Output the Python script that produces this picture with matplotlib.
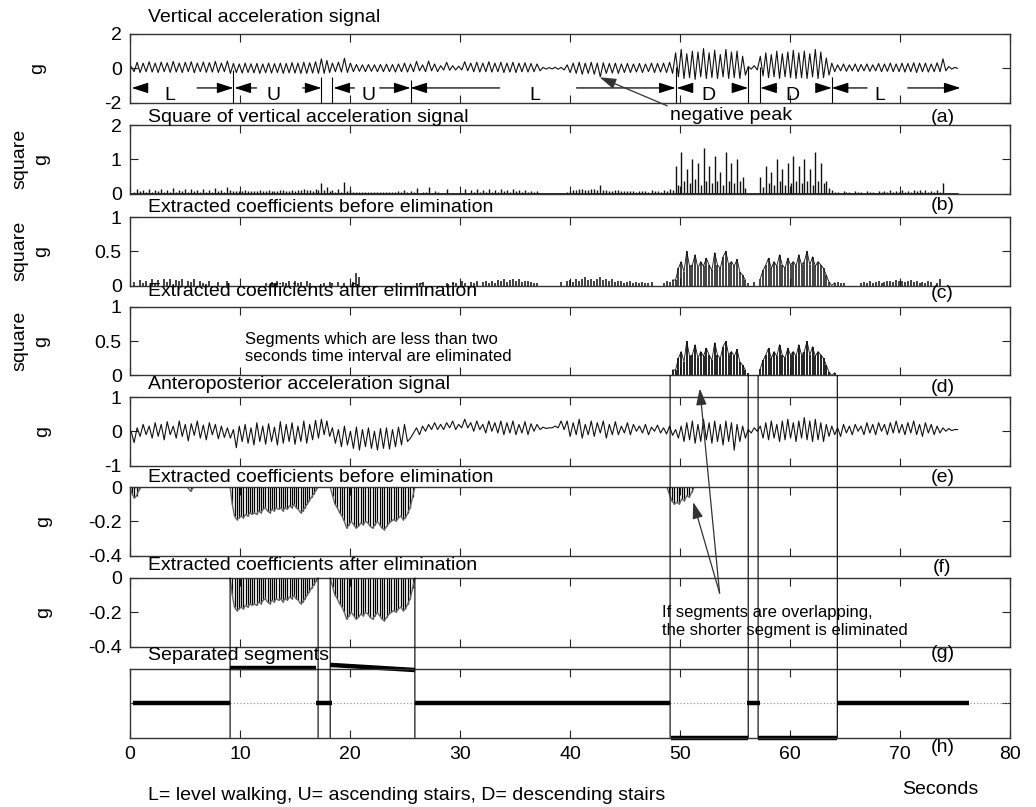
import numpy as np
import matplotlib
matplotlib.use('Agg')
import matplotlib.pyplot as plt
from matplotlib.patches import ConnectionPatch

plt.rcParams['font.family'] = ['Liberation Sans', 'DejaVu Sans']
plt.rcParams['axes.unicode_minus'] = False

# ---------------- data ----------------
# activity segments (seconds) of the vertical / anteroposterior signals
seg_start = [0.1, 9.4, 17.4, 18.4, 25.5, 49.6, 56.2, 57.3, 63.8]
seg_end = [9.4, 17.4, 18.4, 25.5, 49.6, 56.2, 57.3, 63.8, 75.5]

# (a) vertical acceleration signal (g), successive peaks / troughs per segment
vert_L1 = [0.1,-0.2, 0.35,-0.25, 0.3,-0.2, 0.38,-0.22, 0.3,-0.25, 0.36,-0.2, 0.32,-0.24, 0.4,-0.22, 0.3,-0.25,
           0.35,-0.2, 0.38,-0.26, 0.3,-0.2, 0.36,-0.24, 0.33,-0.22, 0.4,-0.25, 0.3,-0.2, 0.42,-0.3]
vert_U1 = [0.28,-0.25, 0.25,-0.28, 0.3,-0.25, 0.26,-0.27, 0.28,-0.3, 0.25,-0.26, 0.3,-0.28, 0.27,-0.25,
           0.3,-0.3, 0.28,-0.27, 0.33,-0.28, 0.3,-0.3, 0.35,-0.3, 0.32,-0.28, 0.38,-0.3]
vert_T1 = [0.55,-0.3, 0.45,-0.25]
vert_U2 = [0.3,-0.2, 0.35,-0.22, 0.58,-0.25, 0.3,-0.2, 0.22,-0.18, 0.2,-0.2, 0.22,-0.18, 0.2,-0.2,
           0.22,-0.2, 0.24,-0.2, 0.22,-0.22, 0.25,-0.2, 0.3,-0.22]
vert_L2 = [0.25,-0.2, 0.4,-0.15, 0.2,-0.2, 0.42,-0.15, 0.25,-0.2,
           0.15,-0.1, 0.35,-0.12, 0.15,-0.1, 0.12,-0.1, 0.38,-0.15,
           0.3,-0.2, 0.35,-0.22, 0.3,-0.2, 0.38,-0.22, 0.3,-0.2,
           0.35,-0.25, 0.3,-0.22, 0.35,-0.25, 0.3,-0.2, 0.32,-0.22, 0.28,-0.2, 0.25,-0.15,
           0.05,-0.05, 0.04,-0.04, 0.06,-0.06, 0.05,-0.1,
           0.2,-0.25, 0.3,-0.3, 0.35,-0.35, 0.3,-0.3, 0.35,-0.35, 0.3,-0.5, 0.32,-0.3, 0.28,-0.28,
           0.3,-0.3, 0.25,-0.25, 0.28,-0.25, 0.25,-0.22, 0.28,-0.25, 0.25,-0.2, 0.3,-0.25, 0.28,-0.22,
           0.3,-0.25, 0.35,-0.3]
vert_D1 = [0.9,-0.5, 1.1,-0.6, 0.85,-0.55, 1.0,-0.65, 0.95,-0.5, 1.15,-0.6, 0.9,-0.55, 1.05,-0.6,
           0.8,-0.5, 1.1,-0.6, 0.95,-0.55, 1.0,-0.6, 0.7,-0.4]
vert_T2 = [0.1,-0.05, 0.15,-0.1]
vert_D2 = [0.7,-0.45, 0.9,-0.55, 0.8,-0.5, 1.0,-0.6, 0.85,-0.5, 0.95,-0.55, 1.05,-0.6, 0.9,-0.55,
           1.0,-0.6, 0.85,-0.5, 1.1,-0.6, 0.95,-0.55, 0.6,-0.4]
vert_L3 = [0.3,-0.2, 0.2,-0.15, 0.25,-0.18, 0.2,-0.15, 0.25,-0.2, 0.22,-0.15, 0.25,-0.18, 0.2,-0.15,
           0.28,-0.2, 0.25,-0.18, 0.3,-0.2, 0.25,-0.2, 0.3,-0.22, 0.28,-0.2, 0.32,-0.25, 0.3,-0.2,
           0.3,-0.22, 0.25,-0.2, 0.32,-0.2, 0.55,-0.15, 0.1,-0.05, 0.05,0.0]

# (c) extracted coefficients before elimination (square g)
coef_L1 = [0,0.05, 0,0.08, 0.03,0.07, 0,0.1, 0.04,0.08, 0,0.09, 0.05,0.1, 0,0.08, 0.06,0.1, 0,0.07,
           0.05,0.09, 0,0.06, 0.04,0, 0.07,0, 0,0.05, 0,0, 0.06,0]
coef_U1 = [0,0, 0,0, 0,0, 0,0, 0,0, 0,0.03, 0,0.05, 0.03,0.06, 0,0.05, 0.04,0.06, 0,0.07, 0.03,0.05,
           0,0.06, 0.04,0, 0,0]
coef_T1 = [0,0.04, 0,0.05]
coef_U2 = [0.04,0, 0.05,0, 0.03,0, 0,0.05, 0.18,0.12, 0,0, 0,0, 0,0, 0,0, 0,0, 0,0, 0,0, 0,0]
coef_L2 = [0,0, 0.04,0.03, 0.05,0, 0,0, 0,0,
           0,0, 0.04,0, 0.05,0.03, 0,0.06, 0.04,0,
           0.05,0.03, 0.06,0, 0.05,0.07, 0.03,0.06, 0.04,0.08,
           0.06,0.1, 0.05,0.08, 0.09,0.06, 0.1,0.05, 0.07,0.06, 0.05,0.04, 0.03,0,
           0,0, 0,0, 0,0, 0.05,0,
           0.06,0.08, 0.05,0.1, 0.07,0.09, 0.12,0.08, 0.1,0.07, 0.09,0.12, 0.08,0.1, 0.06,0.09,
           0.05,0.07, 0.06,0.04, 0.05,0.06, 0.04,0.05, 0.03,0.05, 0.04,0.03, 0.05,0, 0,0,
           0.04,0.06, 0.05,0.08]
coef_D1 = [0.08,0.25, 0.35,0.2, 0.5,0.28, 0.3,0.45, 0.25,0.35, 0.28,0.4, 0.3,0.22, 0.48,0.3,
           0.25,0.42, 0.5,0.3, 0.35,0.28, 0.38,0.2, 0.15,0.08]
coef_T2 = [0.03,0, 0.05,0]
coef_D2 = [0.1,0.22, 0.3,0.4, 0.25,0.35, 0.28,0.45, 0.3,0.25, 0.4,0.3, 0.35,0.28, 0.45,0.3,
           0.35,0.5, 0.3,0.42, 0.28,0.35, 0.3,0.25, 0.15,0.05]
coef_L3 = [0,0.04, 0.05,0.03, 0.04,0, 0,0, 0,0, 0.04,0.05, 0.03,0.06, 0.04,0.05, 0.06,0.04, 0.05,0.07,
           0.06,0.05, 0.08,0.06, 0.07,0.05, 0.06,0.08, 0.05,0.06, 0.04,0.05, 0.03,0.06, 0.05,0,
           0.04,0.1, 0,0, 0,0, 0,0]

# (e) anteroposterior acceleration signal (g)
ap_L1 = [0.0,-0.33, 0.1,-0.15, 0.2,-0.1, 0.15,-0.2, 0.25,-0.15, 0.2,-0.25, 0.28,-0.1, 0.15,-0.2,
         0.3,-0.15, 0.2,-0.28, 0.22,-0.12, 0.3,-0.2, 0.18,-0.25, 0.25,-0.1, 0.2,-0.22, 0.15,-0.18, 0.1,-0.2]
ap_U1 = [0.05,-0.48, 0.15,-0.3, 0.2,-0.35, 0.1,-0.4, 0.25,-0.3, 0.15,-0.38, 0.22,-0.3, 0.12,-0.4,
         0.28,-0.35, 0.2,-0.3, 0.25,-0.38, 0.15,-0.3, 0.3,-0.35, 0.2,-0.25, 0.32,-0.2]
ap_T1 = [0.35,-0.1, 0.3,-0.15]
ap_U2 = [0.1,-0.35, 0.05,-0.45, 0.15,-0.4, 0.0,-0.5, 0.12,-0.55, 0.05,-0.45, 0.1,-0.5, 0.0,-0.55,
         0.08,-0.5, 0.1,-0.52, 0.05,-0.45, 0.12,-0.4, 0.2,-0.3]
ap_L2 = [-0.2,-0.05, 0.1,-0.1, 0.15,0.0, 0.2,0.05, 0.25,0.05,
         0.2,0.05, 0.25,0.1, 0.3,0.05, 0.2,0.1, 0.35,0.1,
         0.25,0.0, 0.3,0.05, 0.2,-0.05, 0.3,0.0, 0.25,-0.05,
         0.3,-0.1, 0.25,-0.05, 0.3,-0.1, 0.2,-0.05, 0.28,-0.1, 0.22,0.0, 0.2,0.05,
         0.12,0.08, 0.1,0.1, 0.15,0.1, 0.3,0.05,
         0.3,-0.15, 0.25,-0.1, 0.35,-0.2, 0.2,-0.1, 0.3,-0.15, 0.25,-0.05, 0.3,-0.2, 0.2,-0.1,
         0.28,-0.1, 0.15,-0.05, 0.25,-0.1, 0.2,0.0, 0.15,-0.05, 0.2,-0.1, 0.12,0.0, 0.18,-0.05,
         0.1,-0.08, 0.15,-0.12]
ap_D1 = [0.05,-0.2, 0.15,-0.3, 0.25,-0.25, 0.3,-0.35, 0.2,-0.3, 0.35,-0.25, 0.25,-0.35, 0.3,-0.3,
         0.2,-0.4, 0.3,-0.3, 0.25,-0.55, 0.2,-0.3, 0.15,-0.2]
ap_T2 = [0.05,-0.05, 0.1,0.0]
ap_D2 = [0.15,-0.2, 0.25,-0.25, 0.3,-0.2, 0.2,-0.3, 0.3,-0.25, 0.35,-0.2, 0.25,-0.3, 0.3,-0.2,
         0.4,-0.25, 0.3,-0.3, 0.35,-0.25, 0.25,-0.3, 0.2,-0.15]
ap_L3 = [0.15,-0.1, 0.1,-0.15, 0.2,-0.05, 0.15,-0.1, 0.2,0.0, 0.15,-0.1, 0.25,-0.05, 0.2,-0.1,
         0.25,0.0, 0.2,-0.1, 0.25,-0.05, 0.3,-0.05, 0.2,-0.1, 0.25,-0.05, 0.3,-0.1, 0.2,-0.15,
         0.25,-0.05, 0.2,-0.1, 0.15,-0.05, 0.1,0.0, 0.08,0.02, 0.05,0.05]

# (f) extracted negative coefficients (g): chunks with start / end time
neg_start = [0.0, 5.2, 9.1, 18.2, 48.8]
neg_end = [1.0, 5.8, 17.1, 25.9, 51.3]
neg_c0 = [0, -0.04, -0.065, -0.05, -0.02, 0]
neg_c1 = [0, -0.025, 0]
neg_c2 = [0, -0.1, -0.17, -0.19, -0.18, -0.17, -0.18, -0.16, -0.17, -0.15, -0.16, -0.15, -0.16, -0.14,
          -0.15, -0.13, -0.12, -0.14, -0.15, -0.13, -0.14, -0.12, -0.13, -0.12, -0.14, -0.12, -0.13,
          -0.11, -0.12, -0.1, -0.12, -0.13, -0.15, -0.14, -0.12, -0.1, -0.08, -0.06, -0.04, -0.02, 0]
neg_c3 = [0, -0.05, -0.1, -0.12, -0.15, -0.17, -0.2, -0.24, -0.22, -0.2, -0.22, -0.24, -0.23, -0.21,
          -0.22, -0.2, -0.21, -0.23, -0.24, -0.22, -0.2, -0.22, -0.24, -0.25, -0.23, -0.21, -0.2,
          -0.19, -0.2, -0.18, -0.17, -0.19, -0.18, -0.15, -0.12, -0.06, 0]
neg_c4 = [0, -0.04, -0.08, -0.1, -0.09, -0.1, -0.07, -0.08, -0.05, -0.06, -0.03, 0]

# (h) separated segments: 0 = level, 1 = ascending, -1 = descending
sep_start = [0.3, 9.1, 16.9, 18.2, 25.9, 49.2, 56.1, 57.1, 64.3]
sep_end = [9.1, 16.9, 18.4, 25.9, 49.1, 56.2, 57.3, 64.3, 76.3]
sep_y0 = [0, 1.02, 0, 1.12, 0, -1, 0, -1, 0]
sep_y1 = [0, 1.02, 0, 0.97, 0, -1, 0, -1, 0]
up_bounds = [9.1, 17.1, 18.2, 25.9]
down_bounds = [49.1, 56.2, 57.1, 64.3]

# (a) activity arrows
act_labels = ['L', 'U', 'U', 'L', 'D', 'D', 'L']
act_start = [0.15, 9.5, 18.5, 25.5, 49.7, 57.3, 63.8]
act_end = [9.4, 17.4, 25.5, 49.6, 56.2, 63.8, 75.5]
act_text_x = [3.6, 13.0, 21.7, 36.8, 52.6, 60.2, 68.2]
act_left_tail = [1.6, 11.5, 20.4, 33.6, 50.7, 58.8, 67.0]
act_right_tail = [6.1, 15.7, 22.7, 40.6, 55.2, 62.7, 70.7]
act_bounds = [9.4, 17.4, 18.4, 25.5, 49.6, 56.2, 57.3, 63.8]
act_bound_top = [-0.1, -0.5, -0.5, -0.7, 0.05, 0.05, 0.05, -0.5]

titles = ['Vertical acceleration signal', 'Square of vertical acceleration signal',
          'Extracted coefficients before elimination', 'Extracted coefficients after elimination',
          'Anteroposterior acceleration signal', 'Extracted coefficients before elimination',
          'Extracted coefficients after elimination', 'Separated segments']
panel_tags = ['(a)', '(b)', '(c)', '(d)', '(e)', '(f)', '(g)', '(h)']
ylims = [(-2, 2), (0, 2), (0, 1), (0, 1), (-1, 1), (-0.4, 0), (-0.4, 0), (-1, 1)]
yticks = [[-2, 0, 2], [0, 1, 2], [0, 0.5, 1], [0, 0.5, 1], [-1, 0, 1],
          [-0.4, -0.2, 0], [-0.4, -0.2, 0], [0]]
yticklabels = [['-2', '0', '2'], ['0', '1', '2'], ['0', '0.5', '1'], ['0', '0.5', '1'],
               ['-1', '0', '1'], ['-0.4', '-0.2', '0'], ['-0.4', '-0.2', '0'], ['']]
ylabels = ['g', 'square\ng', 'square\ng', 'square\ng', 'g', 'g', 'g', '']
xticks = [0, 10, 20, 30, 40, 50, 60, 70, 80]


def build(parts, starts, ends):
    ts, vs = [], []
    for v, s, e in zip(parts, starts, ends):
        n = len(v)
        ts.append(s + (e - s) * np.arange(n) / n)
        vs.append(np.asarray(v, float))
    return np.concatenate(ts), np.concatenate(vs)


t_a, vert = build([vert_L1, vert_U1, vert_T1, vert_U2, vert_L2, vert_D1, vert_T2, vert_D2, vert_L3],
                  seg_start, seg_end)
t_c, coef = build([coef_L1, coef_U1, coef_T1, coef_U2, coef_L2, coef_D1, coef_T2, coef_D2, coef_L3],
                  seg_start, seg_end)
t_e, ap = build([ap_L1, ap_U1, ap_T1, ap_U2, ap_L2, ap_D1, ap_T2, ap_D2, ap_L3], seg_start, seg_end)


def in_bounds(t, b):
    m = np.zeros_like(t, dtype=bool)
    for s, e in zip(b[0::2], b[1::2]):
        m |= (t >= s) & (t <= e)
    return m


# ---------------- figure ----------------
W, H = 1036, 807
fig = plt.figure(figsize=(W / 100, H / 100), dpi=100)
tops = [34, 125, 217, 307, 397, 487, 578, 669]
AXH = 68.5
title_off = [16, 7, 9, 15, 12, 10, 12, 14]
tag_off = [15, 12, 8, 12, 12, 12, 7, 10]
ylab_x = [38, 31, 31, 31, 43, 44, 44, 0]
FS = 14
LC = '#111111'

axes = []
for i, top in enumerate(tops):
    ax = fig.add_axes([130 / W, 1 - (top + AXH) / H, 880 / W, AXH / H])
    ax.patch.set_alpha(0)
    ax.set_xlim(0, 80)
    ax.set_ylim(*ylims[i])
    ax.set_xticks(xticks)
    ax.set_yticks(yticks[i])
    ax.set_yticklabels(yticklabels[i])
    ax.tick_params(direction='in', top=True, right=True, length=6, width=0.8,
                   labelsize=FS, pad=6, colors='#222222', labelcolor='black')
    if i < 7:
        ax.tick_params(labelbottom=False)
    for sp in ax.spines.values():
        sp.set_color('#333333')
        sp.set_linewidth(1.0)
    ax.annotate(titles[i], xy=(1.65, 1), xycoords=('data', 'axes fraction'),
                xytext=(0, title_off[i]), textcoords='offset pixels',
                ha='left', va='center', fontsize=FS)
    ax.annotate(panel_tags[i], xy=(73.86, 0), xycoords=('data', 'axes fraction'),
                xytext=(0, -tag_off[i]), textcoords='offset pixels',
                ha='center', va='center', fontsize=FS, annotation_clip=False)
    if ylabels[i]:
        fig.text(ylab_x[i] / W, 1 - (top + AXH / 2) / H, ylabels[i], rotation=90,
                 ha='center', va='center', fontsize=FS, linespacing=1.4,
                 multialignment='center')
    axes.append(ax)

ax_a, ax_b, ax_c, ax_d, ax_e, ax_f, ax_g, ax_h = axes

# (a)
ax_a.plot(t_a, vert, color=LC, lw=0.8)
ax_a.vlines(act_bounds, -2, act_bound_top, color='k', lw=0.8)
ap_style = dict(arrowstyle='-|>,head_length=1.0,head_width=0.32', color='k', lw=0.9,
                shrinkA=0, shrinkB=0, mutation_scale=10)
ARROW_Y = -1.15
for lab, s, e, lx, lt, rt in zip(act_labels, act_start, act_end, act_text_x,
                                 act_left_tail, act_right_tail):
    ax_a.annotate('', xy=(s, ARROW_Y), xytext=(lt, ARROW_Y), arrowprops=ap_style)
    ax_a.annotate('', xy=(e, ARROW_Y), xytext=(rt, ARROW_Y), arrowprops=ap_style)
    ax_a.text(lx, -1.6, lab, ha='center', va='center', fontsize=FS)
ax_a.annotate('negative peak', xy=(42.7, -0.53), xytext=(49.1, -2.76),
              ha='left', va='center', fontsize=FS, annotation_clip=False,
              arrowprops=dict(arrowstyle='-|>,head_length=1.0,head_width=0.32', color='#333333',
                              lw=0.9, shrinkA=0, shrinkB=0, mutation_scale=10, relpos=(0, 1)))

# (b)
ax_b.vlines(t_a, 0, vert ** 2, color=LC, lw=1.0)
ax_b.plot([t_a[0], t_a[-1]], [0, 0], color=LC, lw=1.2)

# (c)
mask_d = in_bounds(t_c, down_bounds)
ax_c.vlines(t_c, 0, coef, color=LC, lw=1.1)
for part in (mask_d & (t_c < down_bounds[1]), mask_d & (t_c > down_bounds[2])):
    ax_c.plot(t_c[part], coef[part], color=LC, lw=0.6)

# (d)
ax_d.vlines(t_c[mask_d], 0, coef[mask_d], color=LC, lw=1.3)
for part in (mask_d & (t_c < down_bounds[1]), mask_d & (t_c > down_bounds[2])):
    ax_d.plot(t_c[part], coef[part], color=LC, lw=0.6)
ax_d.text(10.45, 0.40, 'Segments which are less than two\nseconds time interval are eliminated',
          ha='left', va='center', fontsize=12, linespacing=1.15)

# (e)
ax_e.plot(t_e, ap, color=LC, lw=0.8)

# (f) and (g)
for vals, s, e in zip([neg_c0, neg_c1, neg_c2, neg_c3, neg_c4], neg_start, neg_end):
    t = np.linspace(s, e, len(vals))
    v = np.asarray(vals, float)
    ax_f.vlines(t, 0, v, color='k', lw=0.9)
    ax_f.plot(t, v, color='#666666', lw=1.0)
    m = in_bounds(t, up_bounds)
    if m.any():
        ax_g.vlines(t[m], 0, v[m], color='k', lw=0.9)
        ax_g.plot(t[m], v[m], color='#666666', lw=1.0)

ax_g.text(48.4, -0.253, 'If segments are overlapping,\nthe shorter segment is eliminated',
          ha='left', va='center', fontsize=12, linespacing=1.3)
low_arrow = dict(arrowstyle='-|>,head_length=1.0,head_width=0.32', color='#333333', lw=0.9,
                 shrinkA=0, shrinkB=0, mutation_scale=10, clip_on=False)
ax_g.annotate('', xy=(51.8, -0.19), xycoords=ax_d.transData,
              xytext=(53.6, -0.088), textcoords=ax_g.transData,
              arrowprops=low_arrow, annotation_clip=False)
ax_g.annotate('', xy=(51.2, -0.088), xycoords=ax_f.transData,
              xytext=(53.6, -0.088), textcoords=ax_g.transData,
              arrowprops=low_arrow, annotation_clip=False)

# (h)
ax_h.axhline(0, color='#888888', ls=(0, (1, 2)), lw=0.8)
for s, e, y0, y1 in zip(sep_start, sep_end, sep_y0, sep_y1):
    ax_h.plot([s, e], [y0, y1], color='k', lw=3.2, solid_capstyle='butt', clip_on=False)
ax_h.set_xticklabels([str(x) for x in xticks])

for x in up_bounds:
    con = ConnectionPatch(xyA=(x, 0), coordsA=ax_g.transData, xyB=(x, -1), coordsB=ax_h.transData,
                          color='k', lw=0.8)
    fig.add_artist(con)
for x in down_bounds:
    con = ConnectionPatch(xyA=(x, 0), coordsA=ax_d.transData, xyB=(x, -1), coordsB=ax_h.transData,
                          color='k', lw=0.8)
    fig.add_artist(con)

fig.text(940 / W, 1 - 790 / H, 'Seconds', ha='center', va='center', fontsize=FS)
fig.text(148 / W, 1 - 795 / H, 'L= level walking, U= ascending stairs, D= descending stairs',
         ha='left', va='center', fontsize=FS)

fig.savefig('out.png', dpi=100, facecolor='white')
